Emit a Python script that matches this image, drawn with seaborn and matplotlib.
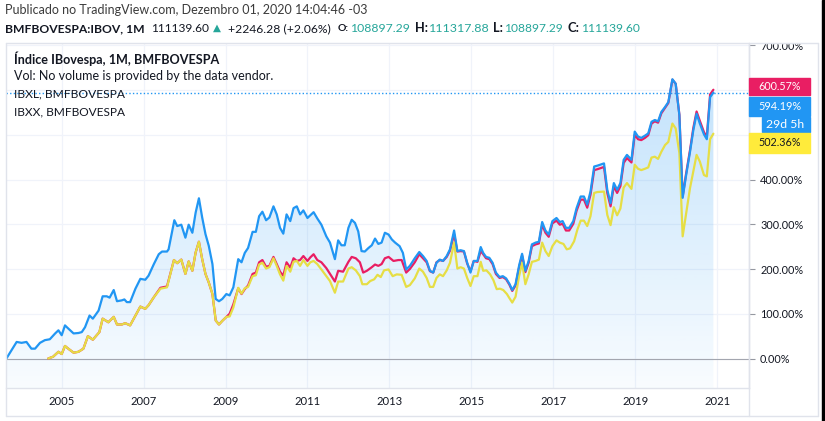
import numpy as np
import pandas as pd
import matplotlib
matplotlib.use("Agg")
import matplotlib.pyplot as plt
import seaborn as sns
from matplotlib.patches import Rectangle
from matplotlib.lines import Line2D

# ---------------- data (percent change, compare mode) ----------------
ibov_year = [2003.65, 2003.90, 2004.02, 2004.14, 2004.26, 2004.35, 2004.47, 2004.59, 2004.71, 2004.84,
             2004.92, 2005.00, 2005.08, 2005.16, 2005.29, 2005.41, 2005.49, 2005.57, 2005.68, 2005.76,
             2005.90, 2006.00, 2006.10, 2006.17, 2006.27, 2006.35, 2006.47, 2006.53, 2006.59, 2006.67,
             2006.80, 2006.92, 2007.04, 2007.12, 2007.25, 2007.37, 2007.45, 2007.57, 2007.61, 2007.70,
             2007.75, 2007.82, 2007.92, 2008.02, 2008.10, 2008.19, 2008.27, 2008.35, 2008.43, 2008.51,
             2008.59, 2008.68, 2008.76, 2008.84, 2008.92, 2009.02, 2009.10, 2009.19, 2009.31, 2009.39,
             2009.47, 2009.55, 2009.66, 2009.74, 2009.82, 2009.90, 2009.99, 2010.07, 2010.17, 2010.25,
             2010.33, 2010.41, 2010.49, 2010.58, 2010.66, 2010.74, 2010.82, 2010.90, 2011.00, 2011.07,
             2011.15, 2011.24, 2011.34, 2011.46, 2011.55, 2011.67, 2011.75, 2011.83, 2011.91, 2012.00,
             2012.08, 2012.16, 2012.24, 2012.32, 2012.40, 2012.49, 2012.57, 2012.65, 2012.73, 2012.81,
             2012.89, 2012.98, 2013.06, 2013.14, 2013.25, 2013.33, 2013.41, 2013.50, 2013.62, 2013.73,
             2013.82, 2013.91, 2013.99, 2014.07, 2014.15, 2014.23, 2014.31, 2014.40, 2014.48, 2014.58,
             2014.66, 2014.74, 2014.82, 2014.90, 2014.98, 2015.06, 2015.15, 2015.23, 2015.29, 2015.36,
             2015.44, 2015.52, 2015.60, 2015.69, 2015.77, 2015.85, 2015.93, 2016.00, 2016.08, 2016.17,
             2016.24, 2016.32, 2016.40, 2016.48, 2016.57, 2016.65, 2016.73, 2016.81, 2016.89, 2016.98,
             2017.08, 2017.16, 2017.23, 2017.31, 2017.39, 2017.49, 2017.57, 2017.67, 2017.75, 2017.83,
             2017.91, 2018.00, 2018.08, 2018.24, 2018.32, 2018.40, 2018.48, 2018.56, 2018.64, 2018.72,
             2018.80, 2018.91, 2018.99, 2019.07, 2019.15, 2019.24, 2019.32, 2019.40, 2019.48, 2019.56,
             2019.64, 2019.73, 2019.81, 2019.91, 2019.99, 2020.08, 2020.16, 2020.24, 2020.34, 2020.42,
             2020.50, 2020.58, 2020.68, 2020.75, 2020.83, 2020.91]
ibov_pct = [0, 37, 35, 37, 22, 22, 35, 41, 43, 56,
            63, 52, 74, 67, 56, 57, 59, 70, 96, 89,
            107, 139, 139, 136, 153, 128, 130, 132, 126, 126,
            156, 178, 176, 185, 211, 233, 239, 239, 244, 285,
            309, 296, 299, 270, 299, 281, 326, 358, 315, 278,
            252, 211, 133, 128, 133, 144, 141, 159, 222, 215,
            236, 247, 283, 283, 318, 328, 309, 315, 340, 322,
            292, 279, 322, 307, 336, 340, 322, 331, 314, 320,
            327, 313, 299, 273, 259, 222, 264, 253, 253, 292,
            310, 303, 284, 240, 239, 247, 253, 268, 256, 259,
            281, 277, 266, 259, 251, 236, 199, 207, 224, 238,
            229, 218, 196, 192, 214, 221, 218, 229, 244, 286,
            240, 242, 240, 214, 192, 218, 218, 249, 236, 227,
            225, 214, 192, 182, 184, 179, 167, 153, 166, 209,
            234, 196, 218, 255, 259, 261, 305, 286, 277, 307,
            314, 305, 307, 292, 292, 307, 336, 362, 362, 344,
            373, 429, 431, 436, 377, 347, 392, 377, 392, 444,
            455, 444, 507, 496, 493, 498, 503, 529, 533, 530,
            551, 562, 573, 624, 614, 544, 359, 407, 462, 510,
            547, 525, 501, 490, 584, 594.19]

ibxl_year = [2004.67, 2004.79, 2004.92, 2005.00, 2005.08, 2005.16, 2005.29, 2005.41, 2005.53, 2005.64,
             2005.76, 2005.92, 2006.00, 2006.14, 2006.27, 2006.35, 2006.47, 2006.55, 2006.67, 2006.80,
             2006.92, 2007.04, 2007.12, 2007.25, 2007.41, 2007.57, 2007.74, 2007.82, 2007.92, 2008.02,
             2008.10, 2008.19, 2008.27, 2008.35, 2008.43, 2008.51, 2008.59, 2008.68, 2008.76, 2008.84,
             2008.92, 2009.02, 2009.10, 2009.19, 2009.31, 2009.39, 2009.47, 2009.55, 2009.66, 2009.74,
             2009.82, 2009.90, 2009.99, 2010.07, 2010.17, 2010.25, 2010.33, 2010.41, 2010.49, 2010.58,
             2010.66, 2010.74, 2010.82, 2010.90, 2011.00, 2011.07, 2011.15, 2011.24, 2011.34, 2011.46,
             2011.55, 2011.67, 2011.75, 2011.87, 2012.00, 2012.08, 2012.18, 2012.28, 2012.36, 2012.45,
             2012.57, 2012.65, 2012.73, 2012.81, 2012.89, 2012.98, 2013.10, 2013.22, 2013.30, 2013.41,
             2013.50, 2013.62, 2013.73, 2013.82, 2013.91, 2013.99, 2014.07, 2014.15, 2014.23, 2014.31,
             2014.40, 2014.48, 2014.58, 2014.66, 2014.74, 2014.82, 2014.90, 2014.98, 2015.06, 2015.15,
             2015.23, 2015.29, 2015.36, 2015.44, 2015.52, 2015.60, 2015.69, 2015.77, 2015.85, 2015.93,
             2016.00, 2016.08, 2016.17, 2016.24, 2016.32, 2016.40, 2016.48, 2016.57, 2016.65, 2016.73,
             2016.81, 2016.89, 2016.98, 2017.08, 2017.16, 2017.23, 2017.31, 2017.39, 2017.49, 2017.57,
             2017.67, 2017.75, 2017.83, 2017.91, 2018.00, 2018.08, 2018.24, 2018.32, 2018.40, 2018.48,
             2018.56, 2018.64, 2018.72, 2018.80, 2018.91, 2018.99, 2019.07, 2019.15, 2019.24, 2019.32,
             2019.40, 2019.48, 2019.56, 2019.64, 2019.73, 2019.81, 2019.91, 2019.99, 2020.08, 2020.16,
             2020.24, 2020.34, 2020.42, 2020.50, 2020.58, 2020.68, 2020.75, 2020.83, 2020.91]
ibxl_pct = [0, 4, 15, 10, 28, 22, 13, 15, 22, 50,
            42, 59, 89, 81, 93, 76, 76, 79, 74, 96,
            116, 111, 119, 137, 158, 161, 220, 213, 221, 189,
            217, 196, 237, 261, 222, 189, 170, 144, 85, 76,
            84, 93, 100, 121, 157, 144, 155, 163, 189, 192,
            215, 220, 205, 207, 227, 211, 194, 185, 215, 203,
            224, 218, 220, 229, 218, 226, 233, 220, 215, 202,
            189, 172, 196, 194, 216, 227, 224, 215, 192, 196,
            204, 210, 207, 211, 224, 227, 218, 220, 220, 192,
            200, 215, 233, 224, 215, 195, 192, 215, 220, 218,
            227, 241, 278, 239, 240, 239, 212, 195, 218, 216,
            240, 233, 224, 222, 211, 189, 180, 182, 177, 165,
            151, 163, 205, 230, 193, 214, 251, 255, 257, 299,
            281, 272, 302, 308, 299, 301, 286, 286, 301, 330,
            355, 355, 337, 366, 421, 423, 428, 370, 340, 385,
            370, 385, 437, 448, 438, 500, 490, 488, 493, 499,
            525, 530, 527, 548, 560, 571, 623, 614, 545, 362,
            411, 466, 515, 552, 531, 506, 495, 590, 600.57]

ibxx_year = [2004.67, 2004.79, 2004.92, 2005.00, 2005.08, 2005.16, 2005.29, 2005.41, 2005.53, 2005.64,
             2005.76, 2005.92, 2006.00, 2006.14, 2006.27, 2006.35, 2006.47, 2006.55, 2006.67, 2006.80,
             2006.92, 2007.04, 2007.12, 2007.25, 2007.41, 2007.57, 2007.74, 2007.82, 2007.92, 2008.02,
             2008.10, 2008.19, 2008.27, 2008.35, 2008.43, 2008.51, 2008.59, 2008.68, 2008.76, 2008.84,
             2008.92, 2009.02, 2009.10, 2009.19, 2009.31, 2009.39, 2009.47, 2009.55, 2009.66, 2009.74,
             2009.82, 2009.90, 2009.99, 2010.07, 2010.17, 2010.25, 2010.33, 2010.41, 2010.49, 2010.58,
             2010.66, 2010.74, 2010.82, 2010.90, 2011.00, 2011.07, 2011.15, 2011.24, 2011.34, 2011.46,
             2011.55, 2011.67, 2011.75, 2011.87, 2012.00, 2012.08, 2012.18, 2012.28, 2012.34, 2012.45,
             2012.53, 2012.63, 2012.71, 2012.79, 2012.87, 2012.98, 2013.08, 2013.18, 2013.30, 2013.41,
             2013.50, 2013.62, 2013.73, 2013.82, 2013.91, 2013.99, 2014.07, 2014.15, 2014.23, 2014.31,
             2014.40, 2014.48, 2014.58, 2014.66, 2014.74, 2014.82, 2014.90, 2014.98, 2015.06, 2015.15,
             2015.23, 2015.29, 2015.37, 2015.46, 2015.54, 2015.62, 2015.70, 2015.78, 2015.87, 2015.93,
             2016.00, 2016.08, 2016.16, 2016.24, 2016.32, 2016.40, 2016.48, 2016.57, 2016.65, 2016.73,
             2016.81, 2016.89, 2016.98, 2017.08, 2017.16, 2017.25, 2017.33, 2017.41, 2017.51, 2017.59,
             2017.67, 2017.75, 2017.83, 2017.91, 2018.00, 2018.08, 2018.24, 2018.32, 2018.40, 2018.48,
             2018.56, 2018.64, 2018.72, 2018.80, 2018.91, 2018.99, 2019.07, 2019.15, 2019.24, 2019.32,
             2019.40, 2019.48, 2019.56, 2019.64, 2019.73, 2019.81, 2019.91, 2019.99, 2020.08, 2020.16,
             2020.24, 2020.34, 2020.42, 2020.50, 2020.58, 2020.68, 2020.75, 2020.83, 2020.91]
ibxx_pct = [0, 4, 15, 10, 28, 22, 13, 15, 22, 50,
            42, 59, 89, 81, 93, 76, 76, 79, 74, 96,
            116, 111, 119, 137, 156, 159, 220, 213, 221, 189,
            217, 196, 237, 261, 222, 189, 170, 144, 85, 76,
            84, 93, 94, 114, 158, 145, 157, 160, 184, 186,
            210, 214, 201, 204, 224, 207, 188, 174, 207, 194,
            216, 218, 207, 220, 207, 215, 218, 211, 199, 184,
            173, 147, 172, 172, 201, 204, 197, 184, 166, 166,
            173, 177, 187, 182, 197, 199, 184, 188, 187, 160,
            164, 179, 201, 194, 180, 160, 160, 180, 188, 184,
            197, 214, 259, 201, 204, 201, 180, 162, 184, 184,
            216, 196, 197, 188, 175, 155, 156, 153, 144, 135,
            125, 138, 181, 214, 166, 188, 216, 218, 221, 259,
            240, 229, 251, 264, 259, 256, 244, 246, 262, 288,
            308, 308, 296, 318, 370, 372, 373, 321, 298, 338,
            320, 335, 382, 392, 379, 433, 424, 421, 424, 427,
            449, 451, 446, 462, 477, 484, 525, 514, 459, 273,
            321, 381, 418, 455, 440, 410, 407, 490, 502.36]

year_ticks = [2005, 2007, 2009, 2011, 2013, 2015, 2017, 2019, 2021]
pct_ticks = [0, 100, 200, 300, 400, 500, 600, 700]
pct_labels = ["0.00%", "100.00%", "200.00%", "300.00%", "400.00%", "", "", "700.00%"]
last_labels = ["600.57%", "594.19%", "29d 5h", "502.36%"]

# ---------------- style ----------------
sns.set_theme(style="white")
plt.rcParams["font.family"] = ["Lato", "DejaVu Sans"]

W, H = 825, 421
BLUE, RED, YELLOW = "#2196f3", "#e91e63", "#e6de45"
TEAL = "#26a69a"
TXT = "#131722"
FRAME = "#e0e3eb"
GRID = "#f0f3fa"

fig = plt.figure(figsize=(W / 100, H / 100), dpi=100)
fig.patch.set_facecolor("white")
renderer = fig.canvas.get_renderer()


def fx(px):
    return px / W


def fy(py):
    return 1 - py / H


L, R, T, B = 5.5, 749, 42.5, 388
ax = fig.add_axes([fx(L), fy(B), fx(R) - fx(L), fy(T) - fy(B)])
xmin = 2005 + (L - 61.7) / 40.96
xmax = 2005 + (R - 61.7) / 40.96
ymin = (358.5 - B) / 44.75 * 100
ymax = (358.5 - T) / 44.75 * 100

df_ibov = pd.DataFrame({"year": ibov_year, "pct": ibov_pct})
df_ibxl = pd.DataFrame({"year": ibxl_year, "pct": ibxl_pct})
df_ibxx = pd.DataFrame({"year": ibxx_year, "pct": ibxx_pct})

# gradient area under IBOV
poly = ax.fill_between(df_ibov["year"], df_ibov["pct"], ymin, color="none", lw=0)
clip_path = poly.get_paths()[0]
grad = np.zeros((256, 1, 4))
grad[..., 0], grad[..., 1], grad[..., 2] = 33 / 255, 150 / 255, 243 / 255
grad[:, 0, 3] = np.linspace(0.03, 0.30, 256)
im = ax.imshow(grad, extent=[xmin, xmax, ymin, ymax], origin="lower", aspect="auto",
               zorder=1, interpolation="bilinear")
im.set_clip_path(clip_path, transform=ax.transData)

sns.lineplot(data=df_ibxl, x="year", y="pct", ax=ax, color=RED, lw=1.6, sort=False,
             estimator=None, zorder=3)
sns.lineplot(data=df_ibxx, x="year", y="pct", ax=ax, color=YELLOW, lw=1.6, sort=False,
             estimator=None, zorder=4)
sns.lineplot(data=df_ibov, x="year", y="pct", ax=ax, color=BLUE, lw=1.6, sort=False,
             estimator=None, zorder=5)

ax.axhline(0, color="#a3a6af", lw=0.8, zorder=2)
ax.axhline(ibov_pct[-1], color=BLUE, lw=1.0, ls=(0, (1, 1.6)), zorder=2)

ax.set_xlim(xmin, xmax)
ax.set_ylim(ymin, ymax)
ax.set_xlabel("")
ax.set_ylabel("")
ax.set_xticks(year_ticks)
ax.set_yticks(pct_ticks)
ax.grid(True, color=GRID, lw=0.9, zorder=0)
ax.set_axisbelow(True)
for s in ["left", "top"]:
    ax.spines[s].set_visible(False)
for s in ["right", "bottom"]:
    ax.spines[s].set_color(FRAME)
    ax.spines[s].set_linewidth(1.0)


def fitted_size(sample, width_px, weight="normal"):
    t = fig.text(0, 0, sample, fontsize=9, fontweight=weight)
    bb = t.get_window_extent(renderer)
    size = 9 * width_px / bb.width
    t.remove()
    return size


ysz = fitted_size("400.00%", 43)
xsz = fitted_size("2021", 26)
ax.yaxis.tick_right()
ax.set_yticklabels(pct_labels)
ax.tick_params(axis="y", which="both", right=True, length=4, width=0.8, color="#9598a1",
               pad=4, labelsize=ysz, labelcolor=TXT)
ax.set_xticklabels([str(v) for v in year_ticks])
ax.tick_params(axis="x", which="both", bottom=False, length=0, pad=6.0, labelsize=xsz,
               labelcolor=TXT)


def fit(s, x, y, w, color=TXT, weight="normal", ha="left", z=8):
    t = fig.text(fx(x), fy(y), s, color=color, fontweight=weight, fontsize=9, ha=ha,
                 va="center", zorder=z)
    for _ in range(2):
        bb = t.get_window_extent(renderer)
        t.set_fontsize(t.get_fontsize() * w / bb.width)
    return t


# cover the clipped top of the price scale, then frame lines
fig.add_artist(Rectangle((fx(749.5), fy(42.5)), fx(817) - fx(749.5), 1 - fy(42.5),
                         transform=fig.transFigure, color="white", zorder=4))
for (x0, y0, x1, y1) in [(L, 42.5, 817.5, 42.5), (L, 416, 817.5, 416), (817.5, 42.5, 817.5, 416),
                         (749, 388, 749, 416), (L, 42.5, L, 416), (749, 42.5, 749, 388)]:
    fig.add_artist(Line2D([fx(x0), fx(x1)], [fy(y0), fy(y1)], transform=fig.transFigure,
                          color=FRAME, lw=1.0, zorder=6))
fig.add_artist(Rectangle((fx(821.5), 0), 1 - fx(821.5), 1, transform=fig.transFigure,
                         color="black", zorder=6))

# last-value labels on the price scale
boxes = [(749.3, 78.3, 95.0, RED, "white", 758, 43),
         (749.3, 96.7, 116.0, BLUE, "white", 758, 43),
         (761.7, 117.3, 131.7, BLUE, "white", 766, 38),
         (749.3, 133.3, 152.7, "#ffeb3b", TXT, 758, 43)]
for lab, (bx, by0, by1, bc, tc, tx, tw) in zip(last_labels, boxes):
    fig.add_artist(Rectangle((fx(bx), fy(by1)), fx(810) - fx(bx), fy(by0) - fy(by1),
                             transform=fig.transFigure, color=bc, zorder=7))
    fit(lab, tx, (by0 + by1) / 2, tw, color=tc)

# header
fit("Publicado no TradingView.com, Dezembro 01, 2020 14:04:46 -03", 5, 10, 363, color="#3b3b3b")
hdr = [("BMFBOVESPA:IBOV, 1M", 5, 139, TXT, "bold"),
       ("111139.60", 151, 58, TXT, "normal"),
       ("\u25b2", 213, 8, TEAL, "normal"),
       ("+2246.28 (+2.06%)", 228, 103, TXT, "normal"),
       ("O:", 338, 11, TXT, "bold"), ("108897.29", 350, 60, TEAL, "normal"),
       ("H:", 415, 13, TXT, "bold"), ("111317.88", 429, 60, TEAL, "normal"),
       ("L:", 493, 10, TXT, "bold"), ("108897.29", 505, 59, TEAL, "normal"),
       ("C:", 568, 12, TXT, "bold"), ("111139.60", 581, 59, TEAL, "normal")]
for s, x, w, c, wt in hdr:
    fit(s, x, 28.5, w, color=c, weight=wt)

# pane legend
fit("Índice IBovespa, 1M, BMFBOVESPA", 14, 59, 207, weight="bold")
fit("Vol: No volume is provided by the data vendor.", 14, 76.5, 260)
fit("IBXL, BMFBOVESPA", 14, 94, 111)
fit("IBXX, BMFBOVESPA", 14, 111.5, 111)

fig.savefig("out.png", dpi=100, facecolor="white")
